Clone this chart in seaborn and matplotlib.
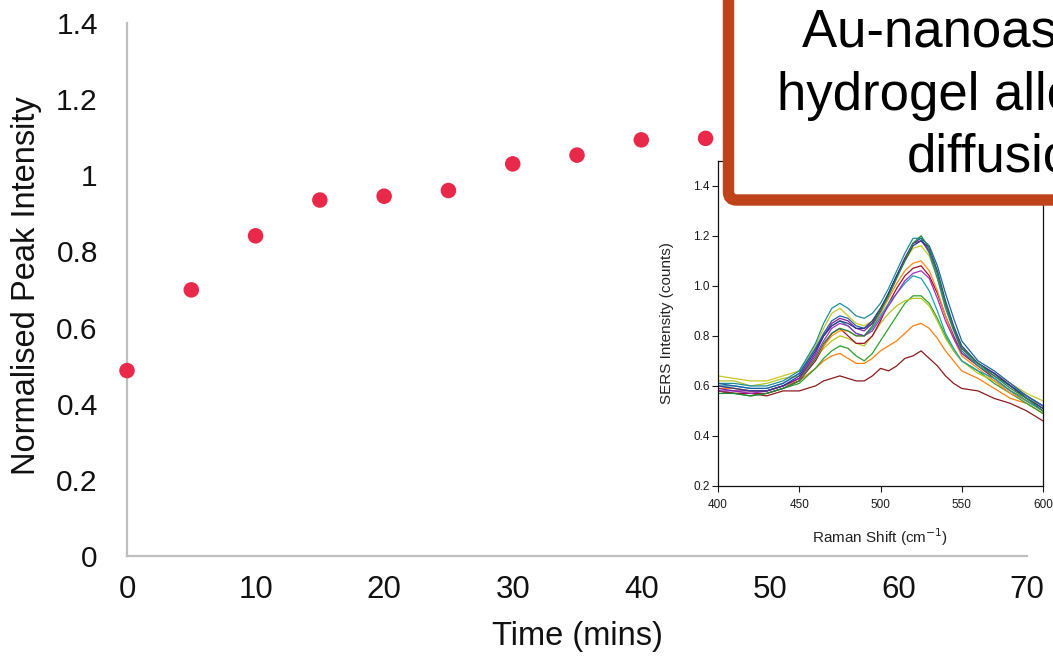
import matplotlib
matplotlib.use("Agg")
import matplotlib.pyplot as plt
import seaborn as sns
from matplotlib.patches import FancyBboxPatch

# main chart: normalised peak intensity vs time
time_min = [0, 5, 10, 15, 20, 25, 30, 35, 40, 45]
peak_intensity = [0.487, 0.699, 0.841, 0.935, 0.945, 0.960, 1.030, 1.053, 1.093, 1.097]
main_xticks = [0, 10, 20, 30, 40, 50, 60, 70]
main_yticks = [0, 0.2, 0.4, 0.6, 0.8, 1.0, 1.2, 1.4]
main_yticklabels = ["0", "0.2", "0.4", "0.6", "0.8", "1", "1.2", "1.4"]

# inset: SERS spectra
spec_shift = [400, 410, 420, 430, 440, 450, 460, 465, 470, 475, 480, 485, 490, 495, 500,
              505, 510, 515, 520, 525, 530, 535, 540, 545, 550, 560, 570, 580, 590, 600]
spec_darkred = [.58, .57, .57, .56, .58, .58, .60, .62, .63, .64, .63, .62, .62, .64, .67,
                .66, .68, .71, .72, .74, .71, .68, .64, .61, .59, .58, .55, .53, .50, .46]
spec_orange = [.60, .59, .58, .58, .60, .62, .67, .70, .72, .73, .71, .69, .69, .71, .74,
               .76, .78, .81, .84, .85, .83, .79, .74, .70, .66, .63, .59, .55, .53, .49]
spec_green = [.58, .57, .56, .57, .59, .61, .67, .71, .74, .76, .75, .72, .70, .73, .78,
              .83, .88, .93, .96, .96, .93, .87, .80, .74, .70, .66, .61, .57, .53, .49]
spec_olive_low = [.62, .62, .60, .61, .63, .64, .71, .75, .78, .80, .79, .77, .76, .80, .85,
                  .89, .92, .94, .95, .95, .92, .86, .79, .74, .70, .65, .62, .58, .55, .52]
spec_maroon = [.58, .57, .57, .57, .59, .62, .70, .76, .81, .83, .80, .77, .77, .80, .86,
               .93, .99, 1.04, 1.07, 1.08, 1.04, .97, .88, .80, .73, .68, .63, .58, .54, .50]
spec_orange2 = [.59, .59, .58, .58, .60, .63, .71, .76, .80, .82, .82, .80, .80, .83, .89,
                .95, 1.01, 1.06, 1.09, 1.10, 1.06, .98, .88, .79, .72, .67, .62, .57, .54, .50]
spec_teal_low = [.60, .60, .59, .59, .61, .65, .75, .80, .84, .86, .84, .81, .80, .83, .88,
                 .93, .97, 1.01, 1.04, 1.03, .98, .90, .81, .75, .70, .66, .63, .58, .54, .50]
spec_violet = [.58, .58, .57, .58, .60, .63, .72, .78, .83, .85, .84, .81, .80, .82, .87,
               .92, .97, 1.02, 1.05, 1.06, 1.03, .95, .86, .79, .73, .69, .65, .60, .56, .52]
spec_olive = [.64, .63, .62, .62, .64, .66, .76, .83, .89, .91, .88, .85, .84, .86, .91,
              .97, 1.04, 1.10, 1.15, 1.16, 1.12, 1.03, .92, .83, .75, .69, .65, .61, .57, .54]
spec_teal = [.61, .61, .60, .60, .62, .66, .77, .85, .91, .93, .91, .88, .87, .89, .93,
             .99, 1.06, 1.13, 1.19, 1.19, 1.13, 1.03, .91, .82, .74, .68, .64, .60, .56, .52]
spec_blue = [.61, .60, .59, .59, .61, .65, .75, .81, .86, .88, .87, .84, .83, .85, .90,
             .97, 1.04, 1.11, 1.17, 1.19, 1.16, 1.08, .97, .87, .78, .70, .66, .61, .56, .52]
spec_purple = [.59, .58, .58, .58, .60, .63, .73, .80, .85, .87, .86, .83, .82, .85, .90,
               .97, 1.04, 1.11, 1.17, 1.18, 1.14, 1.05, .93, .83, .75, .69, .65, .60, .55, .51]
spec_navy = [.60, .59, .58, .58, .60, .64, .74, .80, .84, .86, .85, .83, .83, .86, .91,
             .97, 1.04, 1.10, 1.16, 1.18, 1.15, 1.06, .94, .84, .76, .69, .65, .60, .55, .51]
spec_green2 = [.57, .57, .56, .57, .59, .62, .71, .77, .81, .83, .82, .80, .80, .84, .90,
               .96, 1.03, 1.10, 1.17, 1.20, 1.15, 1.05, .93, .83, .75, .69, .64, .59, .55, .50]

spectra = [spec_darkred, spec_orange, spec_green, spec_olive_low, spec_maroon, spec_orange2,
           spec_teal_low, spec_violet, spec_olive, spec_teal, spec_blue, spec_purple,
           spec_navy, spec_green2]
spec_colors = ["#8B1A1A", "#FF7F0E", "#2CA02C", "#B5C31E", "#9E1030", "#FF8C1A",
               "#1BA1B0", "#9B30C0", "#C8C81E", "#1E8C9C", "#1F5FA8", "#8A1A9A",
               "#2A3A8F", "#1E8A3A"]

inset_xticks = [400, 450, 500, 550, 600]
inset_yticks = [0.2, 0.4, 0.6, 0.8, 1.0, 1.2, 1.4]

box_lines = ["Au-nanoassembly in", "hydrogel allows rapid", "diffusion"]


def main():
    sns.set_style("white")
    plt.rcParams["font.family"] = ["Liberation Sans", "DejaVu Sans"]

    fig = plt.figure(figsize=(10.53, 6.57), dpi=100)
    ax = fig.add_axes([127 / 1053, 101 / 657, 900 / 1053, 533 / 657])

    sns.scatterplot(x=time_min, y=peak_intensity, color="#E8294A", s=125,
                    edgecolor="none", ax=ax, zorder=3, clip_on=False)
    ax.set_xlim(0, 70)
    ax.set_ylim(0, 1.4)
    ax.set_xticks(main_xticks)
    ax.set_yticks(main_yticks)
    ax.set_yticklabels(main_yticklabels)
    ax.tick_params(axis="x", length=0, pad=14, labelsize=22.5, labelcolor="#111111")
    ax.tick_params(axis="y", length=0, pad=21, labelsize=21.5, labelcolor="#111111")
    for side in ["top", "right"]:
        ax.spines[side].set_visible(False)
    for side in ["left", "bottom"]:
        ax.spines[side].set_color("#BFBFBF")
        ax.spines[side].set_linewidth(1.6)
    ax.set_xlabel("Time (mins)", fontsize=23.5, color="#111111")
    ax.set_ylabel("Normalised Peak Intensity", fontsize=23.5, color="#111111")
    ax.xaxis.set_label_coords(0.5, -0.122)
    ax.yaxis.set_label_coords(-0.094, 0.508)

    # inset with the spectra
    ax_in = fig.add_axes([718 / 1053, 171 / 657, 325 / 1053, 325.3 / 657])
    ax_in.set_facecolor("white")
    for values, c in zip(spectra, spec_colors):
        sns.lineplot(x=spec_shift, y=values, color=c, linewidth=0.9, ax=ax_in)
    ax_in.set_xlim(400, 600)
    ax_in.set_ylim(0.2, 1.5)
    ax_in.set_xticks(inset_xticks)
    ax_in.set_yticks(inset_yticks)
    ax_in.set_yticklabels([f"{v:.1f}" for v in inset_yticks])
    ax_in.tick_params(axis="both", direction="out", length=4, width=0.8,
                      labelsize=8.5, colors="#1a1a1a", left=True, bottom=True)
    ax_in.tick_params(axis="x", pad=5)
    ax_in.tick_params(axis="y", pad=2)
    for side in ax_in.spines.values():
        side.set_visible(True)
        side.set_color("#111111")
        side.set_linewidth(0.9)
    ax_in.set_xlabel("Raman Shift (cm$^{-1}$)", fontsize=11, color="#222222")
    ax_in.set_ylabel("SERS Intensity (counts)", fontsize=11, color="#222222")
    ax_in.xaxis.set_label_coords(0.5, -0.125)
    ax_in.yaxis.set_label_coords(-0.135, 0.5)

    # red framed text box, cut by the figure edge
    box = FancyBboxPatch((728.5, 457), 500, 400,
                         boxstyle="round,pad=0,rounding_size=8",
                         transform=None, facecolor="white", edgecolor="#BF4318",
                         linewidth=8.2, zorder=5)
    fig.add_artist(box)
    starts = [(802, 47), (777, 110), (907, 172)]
    for text, (px, py) in zip(box_lines, starts):
        fig.text(px / 1053, (657 - py) / 657, text, fontsize=38, ha="left",
                 va="baseline", color="black", zorder=6)

    fig.savefig("out.png", dpi=100)


if __name__ == "__main__":
    main()
